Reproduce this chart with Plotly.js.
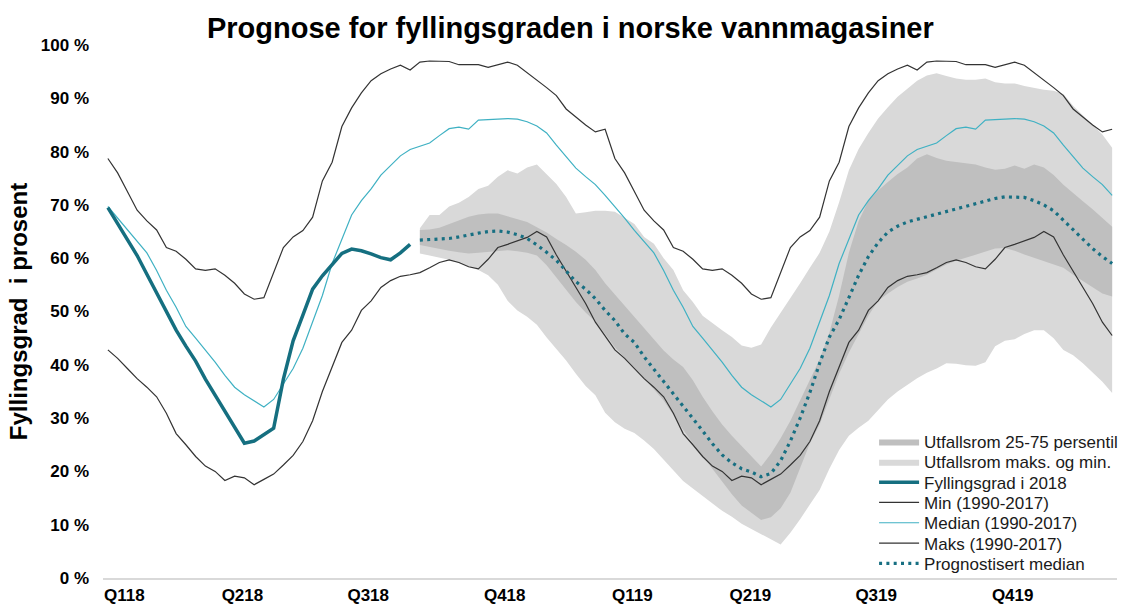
<!DOCTYPE html>
<html>
<head>
<meta charset="utf-8">
<script src="https://cdn.plot.ly/plotly-3.0.1.min.js"></script>
<style>
  html, body { margin: 0; padding: 0; background: #ffffff; }
  #chart { width: 1125px; height: 608px; }
</style>
</head>
<body>
<div id="chart"></div>
<script>
// Uke-indeks: 0 = første uke 2018, 103 = siste uke 2019
const ukeIndeks = Array.from({ length: 104 }, (_, i) => i);
const prognoseStart = 32;

// Kvartalsetiketter
const kvartalPos = [1.7, 13.8, 26.7, 40.7, 53.8, 65.9, 78.8, 92.8];
const kvartalTekst = ['Q118', 'Q218', 'Q318', 'Q418', 'Q119', 'Q219', 'Q319', 'Q419'];

// Y-akse etiketter
const prosentVerdier = [0, 10, 20, 30, 40, 50, 60, 70, 80, 90, 100];
const prosentTekst = ['0 %', '10 %', '20 %', '30 %', '40 %', '50 %', '60 %', '70 %', '80 %', '90 %', '100 %'];

// Maks (1990-2017), tegnet for 2018 og 2019
const maks = [
  78.7, 76, 72.5, 69, 67, 65.3, 62, 61.3, 59.8, 58, 57.7, 58, 56.8, 55.3, 53.3, 52.3, 52.6, 57.5, 62, 64,
  65.2, 67.7, 74.5, 78, 84.7, 88.2, 91, 93.3, 94.6, 95.5, 96.2, 95.3, 96.8, 97, 97, 96.9, 96.3, 96.3, 96.3, 95.8,
  96.3, 96.8, 96.2, 94.8, 93.5, 92, 90.5, 88, 86.5, 85, 83.7, 84.2,
  78.7, 76, 72.5, 69, 67, 65.3, 62, 61.3, 59.8, 58, 57.7, 58, 56.8, 55.3, 53.3, 52.3, 52.6, 57.5, 62, 64,
  65.2, 67.7, 74.5, 78, 84.7, 88.2, 91, 93.3, 94.6, 95.5, 96.2, 95.3, 96.8, 97, 97, 96.9, 96.3, 96.3, 96.3, 95.8,
  96.3, 96.8, 96.2, 94.8, 93.5, 92, 90.5, 88, 86.5, 85, 83.7, 84.2
];

// Median (1990-2017)
const median = [
  69.7, 67.5, 65.2, 63, 61, 57.7, 54, 50.8, 47.2, 45, 42.8, 40.5, 38, 35.8, 34.4, 33.2, 32.1, 33.5, 36.4, 39.3,
  43.1, 48, 53, 59, 63.5, 68.1, 70.8, 73, 75.6, 77.5, 79.2, 80.4, 81, 81.6, 83, 84.3, 84.6, 84.2, 85.9, 86,
  86.1, 86.2, 86.1, 85.6, 84.8, 83.5, 81.2, 79, 76.9, 75.3, 73.8, 71.8,
  69.7, 67.5, 65.2, 63, 61, 57.7, 54, 50.8, 47.2, 45, 42.8, 40.5, 38, 35.8, 34.4, 33.2, 32.1, 33.5, 36.4, 39.3,
  43.1, 48, 53, 59, 63.5, 68.1, 70.8, 73, 75.6, 77.5, 79.2, 80.4, 81, 81.6, 83, 84.3, 84.6, 84.2, 85.9, 86,
  86.1, 86.2, 86.1, 85.6, 84.8, 83.5, 81.2, 79, 76.9, 75.3, 73.8, 71.8
];

// Min (1990-2017)
const minimum = [
  42.8, 41.2, 39.3, 37.4, 35.8, 34.0, 30.9, 27.1, 25.0, 22.8, 21, 20, 18.3, 19.1, 18.8, 17.5, 18.5, 19.5, 21.2, 23,
  25.6, 29.5, 35, 39.5, 44.2, 46.5, 50.2, 52, 54.5, 55.8, 56.6, 56.9, 57.3, 58.2, 59.2, 59.7, 59.2, 58.4, 58, 59.8,
  62, 62.6, 63.2, 63.9, 65, 64, 60.6, 57.5, 54.5, 51.5, 48, 45.5,
  42.8, 41.2, 39.3, 37.4, 35.8, 34.0, 30.9, 27.1, 25.0, 22.8, 21, 20, 18.3, 19.1, 18.8, 17.5, 18.5, 19.5, 21.2, 23,
  25.6, 29.5, 35, 39.5, 44.2, 46.5, 50.2, 52, 54.5, 55.8, 56.6, 56.9, 57.3, 58.2, 59.2, 59.7, 59.2, 58.4, 58, 59.8,
  62, 62.6, 63.2, 63.9, 65, 64, 60.6, 57.5, 54.5, 51.5, 48, 45.5
];

// Fyllingsgrad i 2018 (uke 0-31)
const fylling2018 = [
  69.5, 66.6, 63.6, 60.5, 57, 53.5, 50, 46.5, 43.5, 40.7, 37.3, 34.3, 31.4, 28.4, 25.3, 25.7, 26.9, 28.1, 37.3, 44.5,
  49.3, 54.2, 56.7, 58.8, 60.9, 61.7, 61.4, 60.8, 60.1, 59.7, 61, 62.6
];

// Prognostisert median (uke 32-103)
const prognose = [
  63.4, 63.5, 63.6, 63.7, 64.0, 64.4, 64.7, 65.0, 65.1, 64.9, 64.4, 63.7, 62.5, 61.1, 59.6, 57.6, 55.6, 54.2, 52.4, 50.2,
  48.3, 45.8, 44.2, 41.5, 39.2, 37.0, 34.7, 32.3, 30.0, 27.6, 25.2, 23.1, 21.6, 20.5, 19.9, 19.0, 19.6, 22.0, 25.7, 30.0,
  34.8, 40.3, 45.2, 48.5, 52.6, 56.8, 60.3, 62.9, 64.9, 66.0, 66.8, 67.3, 67.8, 68.3, 68.7, 69.2, 69.7, 70.2, 70.8, 71.2,
  71.5, 71.5, 71.4, 70.8, 70.0, 68.9, 67.1, 65.3, 63.4, 61.8, 60.3, 59.0
];

// Utfallsrom maks. og min. (uke 32-103)
const utfallMaks = [
  65.6, 68.1, 68.1, 69.7, 70.4, 71.5, 73.0, 73.6, 75.3, 76.5, 75.9, 77.0, 77.6, 75.8, 73.9, 71.5, 68.4, 68.6, 68.9, 68.9,
  68.7, 67.6, 66.4, 64.0, 62.7, 60.0, 57.8, 54.0, 51.8, 49.2, 47.8, 46.5, 45.2, 43.6, 43.2, 43.8, 47.0, 49.7, 52.5, 55.3,
  58.2, 61.0, 65.0, 70.5, 76.5, 80.5, 83.5, 86.2, 88.3, 90.3, 91.8, 93.3, 94.3, 94.7, 94.2, 93.7, 93.5, 93.5, 93.7, 93.0,
  92.8, 92.8, 92.3, 91.9, 91.6, 91.4, 90.8, 88.6, 86.8, 85.0, 83.2, 80.7
];
const utfallMin = [
  60.9, 60.5, 60.2, 59.7, 59.1, 58.4, 57.8, 56.8, 55.0, 52.0, 50.2, 49.0, 47.5, 45.1, 43.0, 40.8, 38.3, 36.0, 34.3, 31.0,
  29.2, 28.0, 27.2, 25.8, 24.2, 22.2, 20.2, 18.2, 16.8, 15.4, 14.0, 12.6, 11.5, 10.2, 9.2, 8.2, 7.2, 6.3, 8.5, 11.0,
  13.8, 16.5, 20.5, 24.0, 26.7, 28.2, 29.5, 31.5, 33.5, 35.0, 36.3, 37.5, 38.5, 39.3, 40.3, 40.2, 39.9, 39.8, 40.5, 43.5,
  44.5, 44.8, 45.8, 46.5, 46.5, 45.0, 42.8, 41.8, 40.3, 38.5, 36.8, 34.7
];

// Utfallsrom 25-75 persentil (uke 32-103)
const persentil75 = [
  65.3, 65.4, 65.7, 66.4, 67.1, 67.8, 68.2, 68.4, 68.4, 67.9, 67.4, 66.8, 65.8, 64.8, 63.6, 62.5, 61.2, 59.7, 57.8, 55.3,
  53.2, 51.1, 49.0, 46.7, 44.8, 42.7, 41.0, 39.6, 37.1, 34.0, 31.3, 28.8, 26.7, 24.7, 22.9, 20.9, 23.3, 26.2, 29.5, 33.4,
  37.0, 41.0, 46.0, 53.0, 61.0, 67.0, 70.8, 72.7, 74.3, 75.8, 77.0, 78.7, 79.5, 78.8, 78.3, 78.1, 77.9, 77.6, 77.0, 76.6,
  76.8, 77.4, 76.8, 77.6, 77.0, 75.6, 73.8, 72.2, 70.7, 69.2, 67.5, 65.9
];
const persentil25 = [
  62.5, 62.1, 61.8, 61.4, 61.1, 60.9, 61.0, 61.2, 61.3, 61.5, 61.3, 61.0, 60.5, 58.7, 56.4, 54.0, 51.8, 49.8, 48.1, 45.8,
  43.3, 41.3, 39.5, 37.5, 35.4, 33.3, 30.6, 27.8, 25.3, 22.9, 20.5, 18.0, 15.7, 13.6, 12.2, 10.9, 11.4, 13.1, 16.0, 20.6,
  25.3, 28.8, 33.5, 38.3, 42.3, 45.8, 49.2, 52.0, 53.4, 54.6, 55.6, 56.2, 56.9, 57.9, 58.8, 59.5, 60.1, 60.7, 61.3, 61.8,
  61.9, 61.4, 60.7, 60.1, 59.5, 58.9, 58.2, 56.9, 55.7, 54.5, 53.4, 52.8
];

const uke2018 = ukeIndeks.slice(0, fylling2018.length);
const ukePrognose = ukeIndeks.slice(prognoseStart, prognoseStart + prognose.length);

const FONT = 'Liberation Sans, Arial, sans-serif';

const traces = [
  { x: ukePrognose, y: utfallMin, type: 'scatter', mode: 'lines', line: { width: 0, color: '#D9D9D9' },
    showlegend: false, hoverinfo: 'skip' },
  { x: ukePrognose, y: utfallMaks, type: 'scatter', mode: 'lines', fill: 'tonexty', fillcolor: '#D9D9D9',
    line: { width: 0, color: '#D9D9D9' }, name: 'Utfallsrom maks. og min.', legendrank: 2 },
  { x: ukePrognose, y: persentil25, type: 'scatter', mode: 'lines', line: { width: 0, color: '#BFBFBF' },
    showlegend: false, hoverinfo: 'skip' },
  { x: ukePrognose, y: persentil75, type: 'scatter', mode: 'lines', fill: 'tonexty', fillcolor: '#BFBFBF',
    line: { width: 0, color: '#BFBFBF' }, name: 'Utfallsrom 25-75 persentil', legendrank: 1 },
  { x: ukeIndeks, y: minimum, type: 'scatter', mode: 'lines', line: { width: 1.2, color: '#333333' },
    name: 'Min (1990-2017)', legendrank: 4 },
  { x: ukeIndeks, y: median, type: 'scatter', mode: 'lines', line: { width: 1.2, color: '#3FB1C3' },
    name: 'Median (1990-2017)', legendrank: 5 },
  { x: ukeIndeks, y: maks, type: 'scatter', mode: 'lines', line: { width: 1.2, color: '#333333' },
    name: 'Maks (1990-2017)', legendrank: 6 },
  { x: uke2018, y: fylling2018, type: 'scatter', mode: 'lines', line: { width: 3.5, color: '#156F80' },
    name: 'Fyllingsgrad i 2018', legendrank: 3 },
  { x: ukePrognose, y: prognose, type: 'scatter', mode: 'lines', line: { width: 3.2, color: '#176F82', dash: '3px,4.3px' },
    name: 'Prognostisert median', legendrank: 7 }
];

const layout = {
  width: 1125, height: 608,
  margin: { l: 103, r: 2, t: 45, b: 30 },
  paper_bgcolor: '#ffffff', plot_bgcolor: '#ffffff',
  font: { family: FONT, color: '#000000' },
  title: {
    text: 'Prognose for fyllingsgraden i norske vannmagasiner',
    font: { family: FONT, size: 29, weight: 'bold', color: '#000000' },
    xref: 'container', x: 0.507, xanchor: 'center',
    yref: 'container', y: 1 - 28 / 608, yanchor: 'middle'
  },
  xaxis: {
    range: [-0.5, 103.5], showgrid: false, zeroline: false,
    showline: true, linecolor: '#D9D9D9', linewidth: 1.5,
    tickmode: 'array', tickvals: kvartalPos, ticktext: kvartalTekst, ticks: '',
    tickfont: { family: FONT, size: 17, weight: 'bold', color: '#000000' },
    ticklabelstandoff: 1
  },
  yaxis: {
    range: [0, 100], showgrid: false, zeroline: false, showline: false,
    tickmode: 'array', tickvals: prosentVerdier, ticktext: prosentTekst, ticks: '',
    tickfont: { family: FONT, size: 17, weight: 'bold', color: '#000000' },
    ticklabelstandoff: 13,
    title: { text: 'Fyllingsgrad  i prosent', font: { family: FONT, size: 24, weight: 'bold', color: '#000000' }, standoff: 6 }
  },
  legend: {
    x: 1.006, xanchor: 'right', y: -0.006, yanchor: 'bottom',
    bgcolor: 'rgba(0,0,0,0)', traceorder: 'normal',
    font: { family: FONT, size: 17, color: '#1a1a1a' },
    itemwidth: 40
  },
  showlegend: true
};

Plotly.newPlot('chart', traces, layout, { displayModeBar: false, staticPlot: true }).then(function (gd) {
  // Tettere linjeavstand i forklaringen, slik som i originalen
  const items = Array.from(gd.querySelectorAll('.legend .traces'));
  if (!items.length) return;
  const pos = items.map(function (el) {
    const m = /translate\(\s*([-\d.]+)[ ,]+([-\d.]+)\s*\)/.exec(el.getAttribute('transform') || '');
    return m ? [parseFloat(m[1]), parseFloat(m[2])] : [0, 0];
  });
  const last = pos[pos.length - 1][1];
  const k = 20.3 / ((pos[pos.length - 1][1] - pos[0][1]) / (pos.length - 1) || 20.3);
  items.forEach(function (el, i) {
    const y = last - (last - pos[i][1]) * k;
    el.setAttribute('transform', 'translate(' + pos[i][0] + ',' + y + ')');
  });
});
</script>
</body>
</html>
